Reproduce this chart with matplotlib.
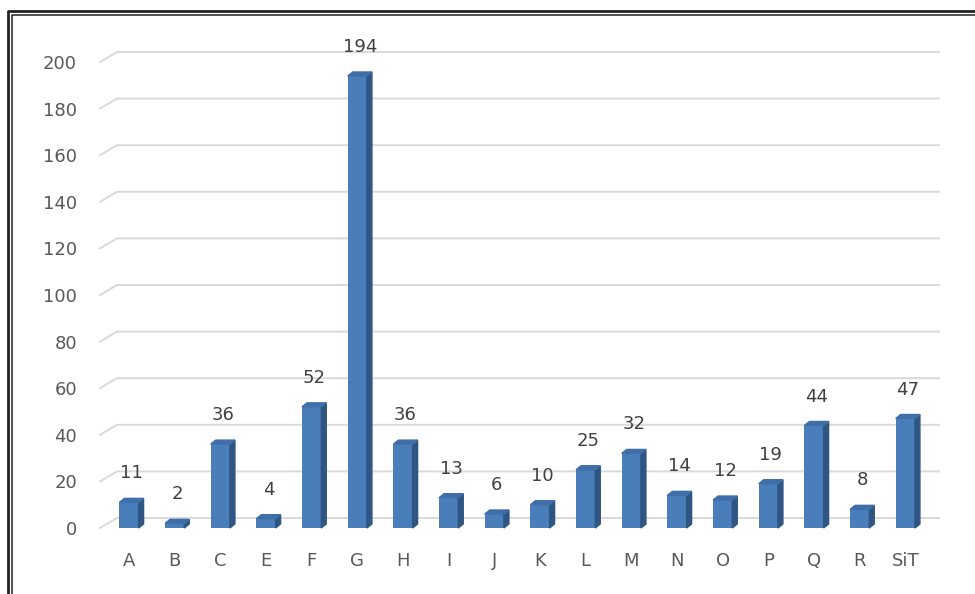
import matplotlib.pyplot as plt
from matplotlib.patches import Polygon
from matplotlib.lines import Line2D

categories = ['A', 'B', 'C', 'E', 'F', 'G', 'H', 'I', 'J', 'K', 'L', 'M',
              'N', 'O', 'P', 'Q', 'R', 'SiT']
values = [11, 2, 36, 4, 52, 194, 36, 13, 6, 10, 25, 32, 14, 12, 19, 44, 8, 47]
y_ticks = list(range(0, 201, 20))

W, H = 975, 594
front = '#4a7ebb'
side = '#2f5683'
top = '#3f6ea8'
text_col = '#595959'
grid_col = '#d9d9d9'

fig = plt.figure(figsize=(W / 100, H / 100), dpi=100)
ax = fig.add_axes([100 / W, 66 / H, 822 / W, 466 / H])
xmin, xmax = -0.635, 17.365
ax.set_xlim(xmin, xmax)
ax.set_ylim(0, 200)

# pixel sizes of one data unit, for the fake 3d depth
p0 = ax.transData.transform((0, 0))
p1 = ax.transData.transform((1, 1))
px_x, px_y = p1[0] - p0[0], p1[1] - p0[1]
dx, dy = 5 / px_x, 4 / px_y
wx, wy = 17 / px_x, 10 / px_y

# back wall gridlines with the slanted floor edge
for t in y_ticks:
    ax.plot([xmin, xmin + wx, xmax + wx], [t, t + wy, t + wy],
            color=grid_col, lw=1.4, clip_on=False, zorder=1)

w = 0.42
x = list(range(len(categories)))
ax.bar(x, values, width=w, color=front, zorder=3)
for xi, v in zip(x, values):
    r = xi + w / 2
    l = xi - w / 2
    ax.add_patch(Polygon([(r, 0), (r + dx, dy), (r + dx, v + dy), (r, v)],
                         closed=True, color=side, zorder=3, clip_on=False))
    ax.add_patch(Polygon([(l, v), (r, v), (r + dx, v + dy), (l + dx, v + dy)],
                         closed=True, color=top, zorder=3, clip_on=False))
    ax.annotate(str(v), (xi + dx / 2, v + dy), xytext=(0, 11.5),
                textcoords='offset points', ha='center', va='bottom',
                fontsize=13, color='#404040', zorder=4, annotation_clip=False)

ax.set_xticks(x)
ax.set_xticklabels(categories)
ax.set_yticks(y_ticks)
ax.tick_params(axis='y', length=0, labelsize=13, colors=text_col, pad=16.5)
ax.tick_params(axis='x', length=0, labelsize=13, colors=text_col, pad=17)
for s in ax.spines.values():
    s.set_visible(False)
ax.set_facecolor('none')

# double frame line on the left and top
def px_line(xs, ys, lw):
    fig.add_artist(Line2D([v / W for v in xs], [1 - v / H for v in ys],
                          color='#222222', lw=lw, solid_capstyle='butt'))

px_line([8, 8, W], [H, 10.5, 10.5], 2.0)
px_line([11.8, 11.8, W], [H, 14.5, 14.5], 1.1)

fig.savefig('out.png', dpi=100)
